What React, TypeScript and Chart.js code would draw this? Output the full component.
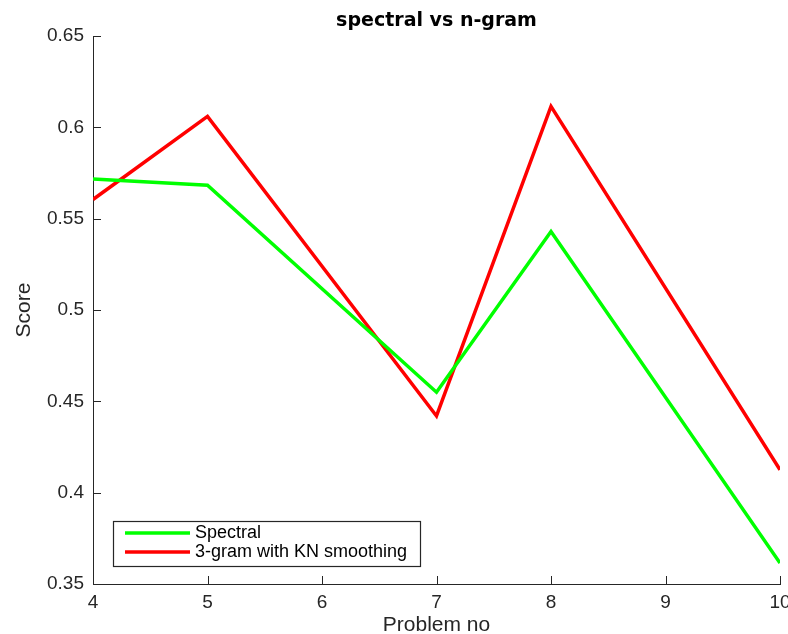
import React, { useEffect, useRef } from "react";
import { Chart, registerables } from "chart.js";

Chart.register(...registerables);

const problems = [4, 5, 7, 8, 10];
const spectral = [0.5717, 0.5683, 0.455, 0.543, 0.3615];
const ngram = [0.5605, 0.606, 0.442, 0.6115, 0.4125];
const xTicks = [4, 5, 6, 7, 8, 9, 10];
const yTicks = [0.35, 0.4, 0.45, 0.5, 0.55, 0.6, 0.65];
const titleText = "spectral vs n-gram";
const seriesLabels = ["Spectral", "3-gram with KN smoothing"];
const seriesColors = ["#00ff00", "#ff0000"];

const AXIS = "#262626";
const FONT = "'Liberation Sans', Arial, sans-serif";

const decorPlugin = {
  id: "decor",
  afterDraw(chart: any) {
    const ctx = chart.ctx;
    const { left, right, bottom } = chart.chartArea;
    const xs = chart.scales.x;
    const ys = chart.scales.y;
    ctx.save();
    // inward ticks
    ctx.strokeStyle = AXIS;
    ctx.lineWidth = 1;
    ctx.beginPath();
    xTicks.forEach((v) => {
      const px = Math.round(xs.getPixelForValue(v)) + 0.5;
      ctx.moveTo(px, bottom);
      ctx.lineTo(px, bottom - 8);
    });
    yTicks.forEach((v) => {
      const py = Math.round(ys.getPixelForValue(v)) + 0.5;
      ctx.moveTo(left, py);
      ctx.lineTo(left + 8, py);
    });
    ctx.stroke();
    // title
    ctx.fillStyle = "#000";
    ctx.font = "bold 19px 'DejaVu Sans', sans-serif";
    ctx.textAlign = "center";
    ctx.textBaseline = "middle";
    ctx.fillText(titleText, (left + right) / 2, 21);
    // legend
    const bx = 113, by = 521, bw = 307, bh = 45;
    ctx.fillStyle = "#fff";
    ctx.fillRect(bx, by, bw, bh);
    ctx.strokeStyle = AXIS;
    ctx.lineWidth = 1.2;
    ctx.strokeRect(bx + 0.5, by + 0.5, bw, bh);
    const rows = [533, 552];
    chart.data.datasets.forEach((ds: any, i: number) => {
      ctx.strokeStyle = ds.borderColor;
      ctx.lineWidth = 3.5;
      ctx.beginPath();
      ctx.moveTo(125, rows[i]);
      ctx.lineTo(190, rows[i]);
      ctx.stroke();
      ctx.fillStyle = "#000";
      ctx.font = `18px ${FONT}`;
      ctx.textAlign = "left";
      ctx.textBaseline = "middle";
      ctx.fillText(ds.label, 195, rows[i]);
    });
    ctx.restore();
  },
};

export default function App() {
  const ref = useRef<HTMLCanvasElement | null>(null);
  useEffect(() => {
    if (!ref.current) return;
    const chart = new Chart(ref.current, {
      type: "line",
      data: {
        datasets: [
          {
            label: seriesLabels[0],
            data: problems.map((p, i) => ({ x: p, y: spectral[i] })),
            borderColor: seriesColors[0],
            backgroundColor: seriesColors[0],
            borderWidth: 3.5,
            pointRadius: 0,
            tension: 0,
            borderJoinStyle: "miter",
          },
          {
            label: seriesLabels[1],
            data: problems.map((p, i) => ({ x: p, y: ngram[i] })),
            borderColor: seriesColors[1],
            backgroundColor: seriesColors[1],
            borderWidth: 3.5,
            pointRadius: 0,
            tension: 0,
            borderJoinStyle: "miter",
          },
        ],
      },
      options: {
        responsive: false,
        animation: false,
        devicePixelRatio: 1,
        layout: { padding: { top: 36, right: 8, left: 0, bottom: 0 } },
        plugins: {
          legend: { display: false },
          title: { display: false },
          tooltip: { enabled: false },
        },
        scales: {
          x: {
            type: "linear",
            min: 4,
            max: 10,
            afterBuildTicks: (s: any) => {
              s.ticks = xTicks.map((v) => ({ value: v }));
            },
            afterFit: (s: any) => {
              s.height = 50;
              s.paddingLeft = 0;
              s.paddingRight = 0;
            },
            grid: { display: false, drawTicks: false },
            border: { display: true, color: AXIS, width: 1 },
            ticks: {
              color: "#262626",
              font: { family: FONT, size: 19 },
              padding: 7,
              maxRotation: 0,
              autoSkip: false,
            },
            title: {
              display: true,
              text: "Problem no",
              color: "#262626",
              font: { family: FONT, size: 21 },
              padding: { top: 0, bottom: -4 },
            },
          },
          y: {
            type: "linear",
            min: 0.35,
            max: 0.65,
            afterBuildTicks: (s: any) => {
              s.ticks = yTicks.map((v) => ({ value: v }));
            },
            afterFit: (s: any) => {
              s.width = 93;
            },
            grid: { display: false, drawTicks: false },
            border: { display: true, color: AXIS, width: 1 },
            ticks: {
              color: "#262626",
              font: { family: FONT, size: 19 },
              padding: 9,
              callback: (v: any) => String(Math.round(Number(v) * 100) / 100),
            },
            title: {
              display: true,
              text: "Score",
              color: "#262626",
              font: { family: FONT, size: 21 },
              padding: { top: 12, bottom: 0 },
            },
          },
        },
      },
      plugins: [decorPlugin],
    } as any);
    return () => chart.destroy();
  }, []);
  return (
    <div style={{ position: "fixed", left: 0, top: 0, width: 788, height: 634, background: "#fff" }}>
      <canvas ref={ref} width={788} height={634} style={{ display: "block", width: 788, height: 634 }} />
    </div>
  );
}
